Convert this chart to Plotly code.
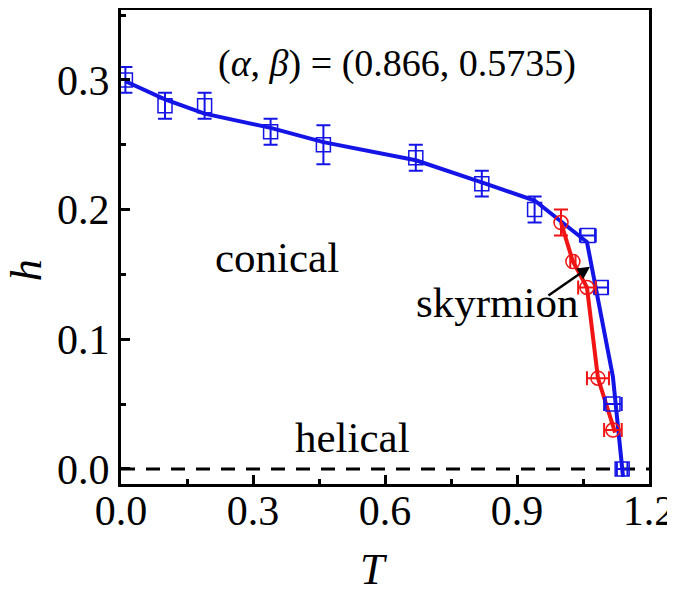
import plotly.graph_objects as go

# conical boundary (blue squares)
cone_T_v = [0.01, 0.10, 0.19, 0.34, 0.46, 0.67, 0.82, 0.94]
cone_h_v = [0.300, 0.280, 0.280, 0.260, 0.250, 0.240, 0.220, 0.200]
cone_err_v = [0.010, 0.010, 0.010, 0.010, 0.015, 0.010, 0.010, 0.010]
cone_T_h = [1.061, 1.091, 1.118, 1.139]
cone_h_h = [0.180, 0.140, 0.050, 0.000]
cone_err_h = [0.018, 0.016, 0.020, 0.012]

# blue guide line
cone_line_T = [0.01, 0.10, 0.19, 0.34, 0.46, 0.67, 0.82, 0.94, 1.059, 1.118, 1.141]
cone_line_h = [0.299, 0.285, 0.274, 0.263, 0.252, 0.238, 0.221, 0.207, 0.175, 0.071, -0.006]

# skyrmion boundary (red circles)
sky_T_v = [1.00]
sky_h_v = [0.190]
sky_err_v = [0.010]
sky_T_h = [1.027, 1.059, 1.084, 1.118]
sky_h_h = [0.160, 0.140, 0.070, 0.030]
sky_err_h = [0.006, 0.020, 0.025, 0.020]

sky_line_T = [1.00, 1.027, 1.059, 1.084, 1.123]
sky_line_h = [0.190, 0.160, 0.140, 0.070, 0.028]

BLUE = "#1414e6"
RED = "#f01414"
FONT = "Liberation Serif"

fig = go.Figure()

# dashed h = 0 line
fig.add_trace(go.Scatter(x=[0.0, 1.2], y=[0.0, 0.0], mode="lines",
                         line=dict(color="black", width=3, dash="14px,11px")))

fig.add_trace(go.Scatter(x=cone_line_T, y=cone_line_h, mode="lines",
                         line=dict(color=BLUE, width=4)))
fig.add_trace(go.Scatter(x=sky_line_T, y=sky_line_h, mode="lines",
                         line=dict(color=RED, width=4)))

sq = dict(symbol="square-open", size=14, color=BLUE, line=dict(width=1.5))
ci = dict(symbol="circle-open", size=14, color=RED, line=dict(width=1.5))

fig.add_trace(go.Scatter(x=cone_T_v, y=cone_h_v, mode="markers", marker=sq,
                         error_y=dict(type="data", array=cone_err_v, color=BLUE,
                                      thickness=2, width=7)))
fig.add_trace(go.Scatter(x=cone_T_h, y=cone_h_h, mode="markers", marker=sq,
                         error_x=dict(type="data", array=cone_err_h, color=BLUE,
                                      thickness=2, width=7)))
fig.add_trace(go.Scatter(x=sky_T_v, y=sky_h_v, mode="markers", marker=ci,
                         error_y=dict(type="data", array=sky_err_v, color=RED,
                                      thickness=2, width=7)))
fig.add_trace(go.Scatter(x=sky_T_h, y=sky_h_h, mode="markers", marker=ci,
                         error_x=dict(type="data", array=sky_err_h, color=RED,
                                      thickness=2, width=7)))

# labels
txt = dict(family=FONT, size=43, color="black")
fig.add_annotation(x=0.627, y=0.313, text="(<i>α</i>, <i>β</i>) = (0.866, 0.5735)",
                   showarrow=False, font=dict(family=FONT, size=38, color="black"))
fig.add_annotation(x=0.355, y=0.163, text="conical", showarrow=False, font=txt)
fig.add_annotation(x=0.855, y=0.128, text="skyrmion", showarrow=False, font=txt)
fig.add_annotation(x=0.527, y=0.024, text="helical", showarrow=False, font=txt)
fig.add_annotation(x=1.066, y=0.156, ax=0.968, ay=0.133, xref="x", yref="y",
                   axref="x", ayref="y", text="", showarrow=True,
                   arrowhead=2, arrowsize=1, arrowwidth=2.5, arrowcolor="black")

# axis titles as free text so they sit where the original has them
title_font = dict(family=FONT, size=44, color="black")
fig.add_annotation(x=-0.18, xref="paper", y=0.451, yref="paper", text="<i>h</i>",
                   textangle=-90, xanchor="center", yanchor="middle",
                   showarrow=False, font=title_font)
fig.add_annotation(x=0.479, xref="paper", y=-0.181, yref="paper", text="<i>T</i>",
                   xanchor="center", yanchor="middle", showarrow=False,
                   font=title_font)

axis = dict(showline=True, linecolor="black", linewidth=3, mirror=True,
            ticks="inside", ticklen=9, tickwidth=2.5, tickcolor="black",
            showgrid=False, zeroline=False, automargin=False,
            ticklabeloverflow="allow",
            tickfont=dict(family=FONT, size=42, color="black"),
            minor=dict(ticks="inside", ticklen=5, tickwidth=2.5, tickcolor="black"))

fig.update_xaxes(range=[0, 1.2], tickvals=[0.0, 0.3, 0.6, 0.9, 1.2],
                 ticktext=["0.0", "0.3", "0.6", "0.9", "1.2"],
                 ticklabelstandoff=-12, **axis)
fig.update_xaxes(minor_dtick=0.15)
fig.update_yaxes(range=[-0.0116, 0.3539], tickvals=[0.0, 0.1, 0.2, 0.3],
                 ticktext=["0.0", "0.1", "0.2", "0.3"], **axis)
fig.update_yaxes(minor_dtick=0.05, minor_tick0=0)

# page body adds an 8px offset, so margins are shifted to compensate
fig.update_layout(width=675, height=594, showlegend=False,
                  margin=dict(l=113, r=34, t=2, b=118),
                  plot_bgcolor="white", paper_bgcolor="white")

fig.write_html("out.html")
